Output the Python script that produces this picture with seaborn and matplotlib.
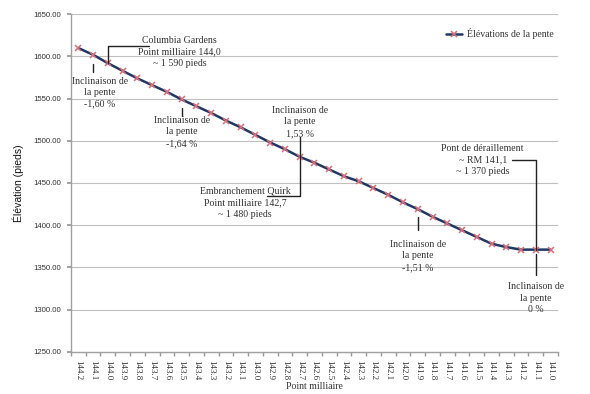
import matplotlib
matplotlib.use("Agg")
import matplotlib.pyplot as plt
import seaborn as sns
import numpy as np
from matplotlib.ticker import FixedLocator, FuncFormatter

# mileposts, east to west
mileposts = ["144.2", "144.1", "144.0", "143.9", "143.8", "143.7", "143.6",
             "143.5", "143.4", "143.3", "143.2", "143.1", "143.0", "142.9",
             "142.8", "142.7", "142.6", "142.5", "142.4", "142.3", "142.2",
             "142.1", "142.0", "141.9", "141.8", "141.7", "141.6", "141.5",
             "141.4", "141.3", "141.2", "141.1", "141.0"]
elevations = [1610, 1602, 1592, 1583, 1574, 1566, 1558, 1549, 1541, 1533,
              1524, 1516, 1507, 1498, 1490, 1481, 1474, 1466, 1458, 1452,
              1444, 1436, 1427, 1419, 1410, 1402, 1394, 1386, 1378, 1374,
              1371, 1371, 1371]
y_ticks = [1250, 1300, 1350, 1400, 1450, 1500, 1550, 1600, 1650]
series_label = "Élévations de la pente"

SERIF = "Liberation Serif"
SANS = "Liberation Sans"
LINE = "#1f3864"
MARK = "#e06c78"
INK = "#333333"

sns.set_theme(style="white")
plt.rcParams["font.family"] = [SERIF, "DejaVu Sans"]

pos = np.arange(len(mileposts))

fig = plt.figure(figsize=(5.9, 3.94), dpi=100)
ax = fig.add_axes([0.1203, 0.1074, 0.8254, 0.8563])

sns.lineplot(x=pos, y=elevations, ax=ax, color=LINE, lw=1.8,
             marker="x", ms=5, mec=MARK, mew=1.1, label=series_label)

ax.set_xlim(-0.5, len(mileposts) - 0.5)
ax.set_ylim(y_ticks[0], y_ticks[-1])
ax.set_yticks(y_ticks)
ax.yaxis.set_major_formatter(FuncFormatter(lambda v, _: f"{v:.2f}"))
ax.grid(axis="y", color="#bfbfbf", lw=0.8)
ax.grid(axis="x", visible=False)

ax.set_xticks(pos)
ax.set_xticklabels(mileposts, rotation=-90, fontsize=6.5, color=INK, family=SERIF)
ax.xaxis.set_minor_locator(FixedLocator(np.arange(-0.5, len(mileposts), 1.0)))
ax.tick_params(axis="x", which="major", length=0, pad=6)
ax.tick_params(axis="x", which="minor", bottom=True, length=3, color="#999999")
ax.tick_params(axis="y", left=True, length=3, color="#999999", labelsize=5.6, pad=4)
for lbl in ax.get_yticklabels():
    lbl.set_family(SANS)
    lbl.set_color(INK)

for side in ["top", "right"]:
    ax.spines[side].set_visible(False)
for side in ["left", "bottom"]:
    ax.spines[side].set_color("#a0a0a0")
    ax.spines[side].set_linewidth(1.0)

ax.set_ylabel("Élévation (pieds)", family=SANS, fontsize=7.5, color="#111111", labelpad=7)
ax.set_xlabel("Point milliaire", fontsize=7, color=INK, labelpad=1)

leg = ax.legend(loc="upper right", bbox_to_anchor=(1.01, 0.985), frameon=False,
                fontsize=7, handlelength=1.7, handletextpad=0.5)
for t in leg.get_texts():
    t.set_color(INK)

txt = dict(ha="center", va="center", fontsize=7.1, color=INK, linespacing=1.35)
lead = dict(color="#222222", lw=1.0)


def note(text, x, y):
    ax.text(x, y, text, **txt)


# Columbia Gardens (MP 144.0)
i = mileposts.index("144.0")
ax.plot([i, i, i + 2.8], [elevations[i], 1612.5, 1612.5], **lead)
note("Columbia Gardens\nPoint milliaire 144,0\n~ 1 590 pieds", i + 4.85, 1605)

# grade -1.60 %
i = mileposts.index("144.1")
ax.plot([i, i], [1591, 1581.5], **lead)
note("Inclinaison de\nla pente\n-1,60 %", i + 0.45, 1557)

# grade -1.64 %
i = mileposts.index("143.5")
ax.plot([i, i], [1538.5, 1529.5], **lead)
note("Inclinaison de\nla pente\n-1,64 %", i, 1510.5)

# grade 1.53 % and Quirk junction (MP 142.7)
i = mileposts.index("142.7")
ax.plot([i, i, i - 2.25], [1504.5, 1434.5, 1434.5], **lead)
note("Inclinaison de\nla pente\n1,53 %", i, 1522.5)
note("Embranchement Quirk\nPoint milliaire 142,7\n~ 1 480 pieds", i - 3.7, 1426.5)

# grade -1.51 %
i = mileposts.index("141.9")
ax.plot([i, i], [1410, 1394.5], **lead)
note("Inclinaison de\nla pente\n-1,51 %", i, 1363.5)

# derailment point (RM 141.1)
i = mileposts.index("141.1")
ax.plot([i - 1.6, i, i], [1477.3, 1477.3, elevations[i]], **lead)
ax.plot([i, i], [1366, 1341], **lead)
note("Pont de déraillement\n~ RM 141,1\n~ 1 370 pieds", i - 3.6, 1477.3)
note("Inclinaison de\nla pente\n0 %", i, 1313.5)

fig.savefig("out.png", dpi=100)
